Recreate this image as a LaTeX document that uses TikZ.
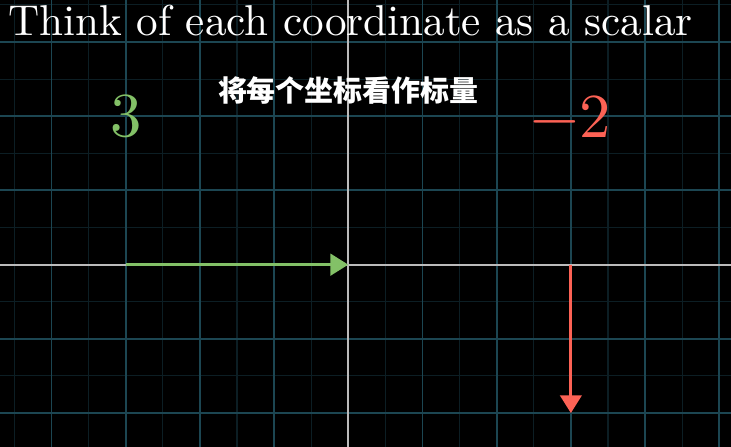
\documentclass[tikz,border=0pt]{standalone}
\usepackage{fontspec}
\newfontfamily\cjk{Noto Sans CJK SC}
\setmainfont{lmroman10-regular.otf}
\usetikzlibrary{arrows.meta}
\definecolor{bg}{RGB}{0,0,0}
\definecolor{majgrid}{RGB}{28,70,82}
\definecolor{mingrid}{RGB}{12,30,36}
\definecolor{axisgray}{RGB}{187,187,187}
\definecolor{mgreen}{HTML}{83C167}
\definecolor{mred}{HTML}{FC6255}
\tikzset{
  majorline/.style={majgrid, line width=0.75pt},
  minorline/.style={mingrid, line width=0.4pt},
  axisline/.style={axisgray, line width=0.7pt},
  vecarrow/.style={line width=1.1pt, -{Triangle[length=0.24cm, width=0.29cm]}},
  numlabel/.style={inner sep=0pt, font=\fontsize{24}{30}\selectfont},
}
\begin{document}
\begin{tikzpicture}
\fill[bg] (-4.694,-2.457) rectangle (5.158,3.567);
\useasboundingbox (-4.694,-2.457) rectangle (5.158,3.567);
\begin{scope}
\clip (-4.694,-2.457) rectangle (5.158,3.567);
\foreach \x in {-4.5,-3.5,...,5.5} \draw[minorline] (\x,-3) -- (\x,4);
\foreach \y in {-2.5,-1.5,...,3.5} \draw[minorline] (-5,\y) -- (6,\y);
\foreach \x in {-5,...,5} \draw[majorline] (\x,-3) -- (\x,4);
\foreach \y in {-3,...,4} \draw[majorline] (-5,\y) -- (6,\y);
\draw[axisline] (-5,0) -- (6,0);
\draw[axisline] (0,-3) -- (0,4);
\end{scope}
\coordinate (O) at (0,0);
\coordinate (A) at (-3,0);
\coordinate (B) at (3,0);
\coordinate (C) at (3,-2);
\draw[vecarrow, mgreen] (A) -- (O);
\draw[vecarrow, mred] (B) -- (C);
\node[anchor=base west, inner sep=0pt, text=white, font=\fontsize{16.55}{20}\selectfont] (title) at (-4.586,3.082) {Think of each coordinate as a scalar};
\node[inner sep=0pt, text=white, font=\cjk\bfseries\fontsize{11.1}{13}\selectfont] (sub) at (0,2.354) {将每个坐标看作标量};
\node[numlabel, text=mgreen] (three) at (-3,2) {3};
\node[numlabel, text=mred] (mtwo) at (3,2) {−2};
\end{tikzpicture}
\end{document}
